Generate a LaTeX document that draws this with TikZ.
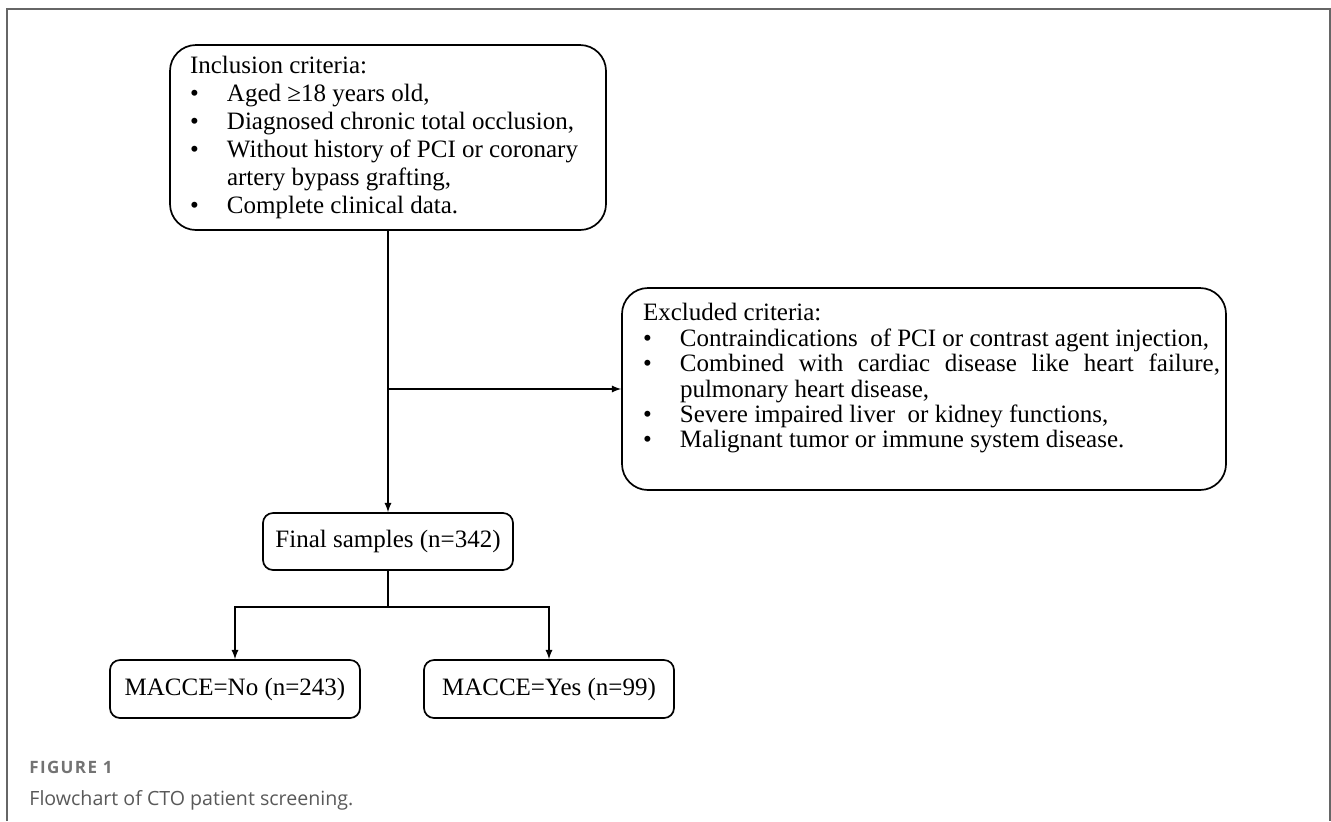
\documentclass[tikz,border=0pt]{standalone}
\usepackage{fontspec}
\setmainfont{Liberation Serif}
\newfontfamily\legende{Open Sans}
\newfontfamily\legendefig[LetterSpace=8]{Open Sans}

% puce avec retrait suspendu
\newcommand{\puce}[1]{\par\noindent\hangindent=18.5pt\hangafter=1\makebox[18.5pt][l]{\textbullet}#1}

\begin{document}
\begin{tikzpicture}[x=0.5pt, y=-0.5pt]
			\tikzset{critere/.style={draw=black, line width=0.85pt, rounded corners=13pt, inner sep=0pt, font=\fontsize{12.5}{14}\selectfont},
				boite/.style={draw=black, line width=0.85pt, rounded corners=5pt, minimum width=125pt, font=\fontsize{12.5}{14}\selectfont},
				fleche/.style={>=latex, ->, line width=0.6pt},
				trait/.style={line width=0.6pt},
				cadre/.style={draw=black!60, line width=0.7pt}};

			\useasboundingbox (0,0) rectangle (1331,821);
			\draw[cadre] (7,821) -- (7,9) -- (1330,9) -- (1330,821);

			\node[critere, minimum width=218pt, minimum height=92.5pt] (incl) at (388,137.5) {\parbox{198pt}{Inclusion criteria:
				\puce{Aged ≥18 years old,}
				\puce{Diagnosed chronic total occlusion,}
				\puce{Without history of PCI or coronary\\ artery bypass grafting,}
				\puce{Complete clinical data.}}};
			\node[critere, minimum width=302pt, minimum height=101pt] (excl) at (924,389) {\hspace{7.5pt}\parbox{288.5pt}{\fontsize{12.5}{12.7}\selectfont Excluded criteria:
				\puce{Contraindications \ of PCI or contrast agent injection,}
				\puce{\makebox[270pt][s]{Combined with cardiac disease like heart failure,}\\ pulmonary heart disease,}
				\puce{Severe impaired liver \ or kidney functions,}
				\puce{Malignant tumor or immune system disease.}\par\vspace{10.5pt}}};

			\node[boite, minimum height=28.5pt] (final) at (388,541.5) {Final samples (n=342)};
			\node[boite, minimum height=29pt] (non) at (235,689) {MACCE=No (n=243)};
			\node[boite, minimum height=29pt] (oui) at (549,689) {MACCE=Yes (n=99)};

			\coordinate (embr) at (388,389);
			\coordinate (bif) at (388,607);

			\draw[fleche] (incl.south) -- (final.north);
			\draw[fleche] (embr) -- (excl.west);
			\draw[trait] (final.south) -- (bif);
			\draw[fleche] (bif) -| (non.north);
			\draw[fleche] (bif) -| (oui.north);

			\node[anchor=west, inner sep=0pt, text=black!55, font=\legendefig\bfseries\fontsize{8.5}{9}\selectfont] (fig) at (29,767) {FIGURE 1};
			\node[anchor=west, inner sep=0pt, text=black!65, font=\legende\fontsize{9.8}{11}\selectfont] (titre) at (29,800) {Flowchart of CTO patient screening.};

		\end{tikzpicture}
\end{document}
